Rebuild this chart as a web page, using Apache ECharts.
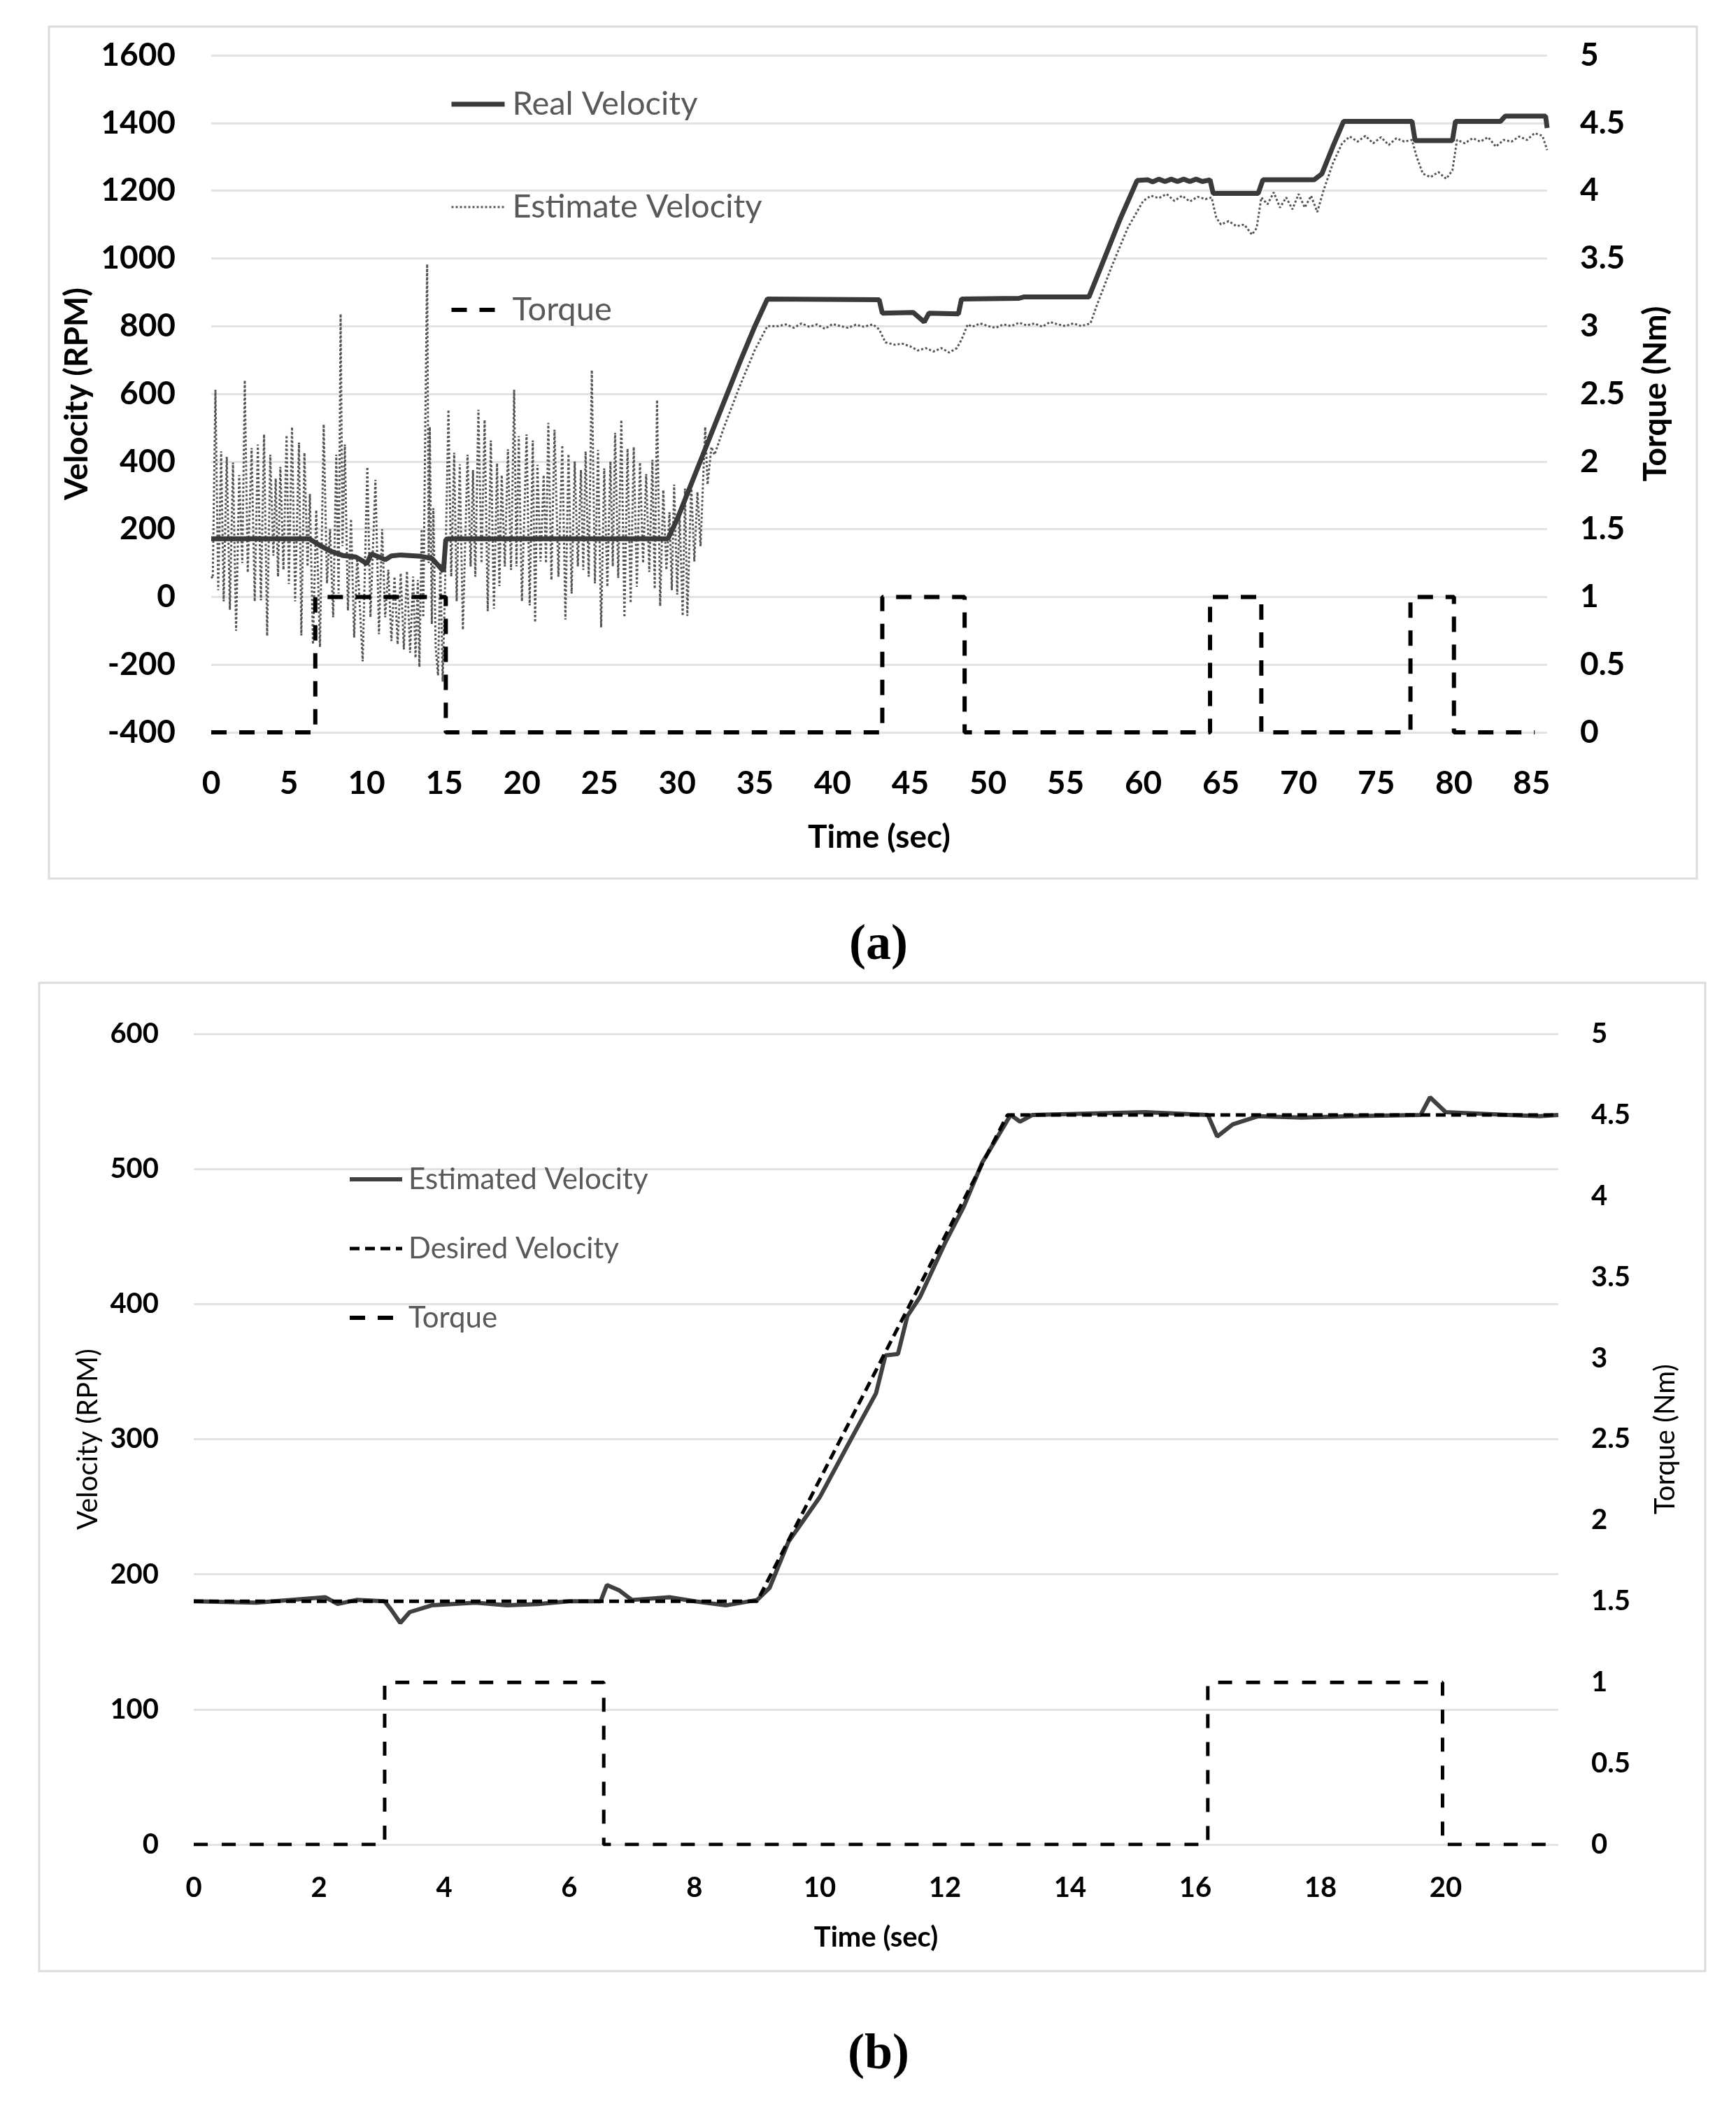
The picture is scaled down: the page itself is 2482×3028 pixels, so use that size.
<!DOCTYPE html>
<html>
<head>
<meta charset="utf-8">
<title>Velocity and torque</title>
<script src="https://cdn.jsdelivr.net/npm/echarts@6/dist/echarts.min.js"></script>
<style>
    html, body { margin: 0; padding: 0; background: #fff; }
    #chart { width: 2482px; height: 3028px; }
</style>
</head>
<body>
<div id="chart"></div>
<script>
// ---- panel (a) data: [time (sec), value] ----
const realVelA = [
    [0, 172], [6.3, 172], [7, 152], [7.7, 135], [8.5, 122], [9.3, 118], [9.8, 105], [10, 97],
    [10.3, 127], [10.8, 118], [11.2, 110], [11.6, 121], [12.2, 124], [13.5, 120], [14.2, 114],
    [14.7, 89], [14.95, 76], [15.1, 169], [15.3, 172], [29.4, 172], [30, 230], [31, 345],
    [32, 460], [33, 575], [34, 690], [35, 800], [35.8, 880], [43, 878], [43.2, 838],
    [45.2, 840], [45.9, 812], [46.2, 838], [48.1, 836], [48.3, 880], [52, 882], [52.3, 886],
    [56.5, 886], [57.5, 1000], [58.5, 1115], [59.6, 1230], [60.3, 1232], [60.6, 1226],
    [61, 1234], [61.4, 1227], [61.8, 1234], [62.2, 1227], [62.6, 1234], [63, 1227],
    [63.4, 1234], [63.8, 1227], [64.3, 1232], [64.5, 1192], [67.4, 1192], [67.7, 1232],
    [71, 1232], [71.5, 1250], [72.2, 1330], [72.9, 1405], [77.3, 1405], [77.5, 1348],
    [79.9, 1348], [80.1, 1405], [83, 1405], [83.3, 1420], [85.9, 1420], [86, 1385]
];

const estVelA = [
    [0, 60], [0.1, 55], [0.27, 612], [0.45, 20], [0.64, 430], [0.8, -13], [1.0, 414], [1.2, -38],
    [1.4, 397], [1.6, -100], [1.8, 360], [2.0, 100], [2.16, 640], [2.35, 72], [2.6, 440],
    [2.8, -13], [3.0, 450], [3.2, -10], [3.4, 480], [3.6, -115], [3.8, 420], [4.0, 122],
    [4.15, 350], [4.3, 60], [4.45, 384], [4.65, 80], [4.85, 478], [5.0, 38], [5.2, 502],
    [5.4, -13], [5.65, 456], [5.8, -114], [6.0, 426], [6.2, 90], [6.35, 304], [6.55, -140],
    [6.76, 257], [7.0, -148], [7.24, 510], [7.45, 40], [7.65, 200], [7.85, -60], [8.05, 420],
    [8.2, 10], [8.33, 836], [8.45, 150], [8.6, 450], [8.8, -40], [9.0, 230], [9.2, -120],
    [9.4, 120], [9.75, -190], [10.05, 384], [10.25, -60], [10.57, 346], [10.8, -110],
    [11.0, 200], [11.2, -60], [11.4, 80], [11.6, -130], [11.8, 60], [12.0, -140], [12.2, 70],
    [12.4, -155], [12.6, 76], [12.8, -165], [13.0, 60], [13.15, -180], [13.3, 50], [13.4, -207],
    [13.55, 200], [13.65, -60], [13.78, 500], [13.9, 983], [14.0, 100], [14.07, 502],
    [14.2, -80], [14.3, 262], [14.45, -150], [14.6, -232], [14.75, 100], [14.9, -250],
    [15.05, 30], [15.27, 553], [15.45, 60], [15.64, 426], [15.8, -13], [16.0, 392], [16.2, -97],
    [16.5, 420], [16.7, 90], [16.85, 375], [17.0, 60], [17.2, 553], [17.4, 100], [17.6, 523],
    [17.8, -42], [18.0, 462], [18.2, -35], [18.4, 395], [18.55, 32], [18.7, 360], [18.9, 90],
    [19.1, 436], [19.3, 80], [19.5, 612], [19.65, 90], [19.8, 475], [20.0, -13], [20.3, 480],
    [20.5, -25], [20.7, 462], [20.85, -75], [21.0, 390], [21.2, 105], [21.4, 360], [21.55, 100],
    [21.7, 514], [21.9, 50], [22.1, 494], [22.35, 60], [22.6, 448], [22.8, -67], [23.0, 422],
    [23.2, 10], [23.4, 400], [23.6, 90], [23.8, 375], [23.95, 80], [24.1, 430], [24.3, 60],
    [24.5, 670], [24.7, 40], [24.9, 434], [25.1, -90], [25.3, 380], [25.5, 30], [25.7, 400],
    [25.85, 90], [26.0, 485], [26.2, 56], [26.4, 523], [26.6, -60], [26.8, 438], [27.0, -18],
    [27.2, 443], [27.4, 30], [27.6, 397], [27.8, 100], [28.0, 363], [28.2, 74], [28.4, 405],
    [28.55, 24], [28.7, 582], [28.9, -27], [29.1, 316], [29.3, 80], [29.5, 250], [29.65, 20],
    [29.8, 332], [30.0, 7], [30.15, 250], [30.35, -56], [30.5, 320], [30.65, -56], [30.9, 332],
    [31.1, 105], [31.3, 310], [31.5, 150], [31.8, 502], [31.95, 332], [32.2, 443], [32.4, 420],
    [33, 500], [34, 620], [35, 730], [35.8, 800], [36.5, 800], [37, 805], [37.5, 795], [38, 808],
    [38.5, 798], [39, 805], [39.5, 792], [40, 806], [40.5, 800], [41, 795], [41.5, 804],
    [42, 798], [42.6, 805], [43.0, 790], [43.4, 752], [44, 745], [44.5, 748], [45, 740],
    [45.5, 728], [46, 735], [46.5, 725], [47, 735], [47.5, 722], [48, 735], [48.3, 760],
    [48.7, 805], [49, 798], [49.5, 808], [50, 800], [50.5, 795], [51, 805], [51.5, 800],
    [52, 810], [52.5, 802], [53, 808], [53.5, 798], [54, 812], [54.5, 805], [55, 800],
    [55.5, 808], [56, 800], [56.6, 808], [57, 860], [58, 980], [59, 1090], [60, 1170],
    [60.5, 1185], [61, 1178], [61.5, 1190], [62, 1170], [62.5, 1185], [63, 1168], [63.5, 1182],
    [64, 1175], [64.4, 1180], [64.7, 1120], [65, 1100], [65.5, 1110], [66, 1095], [66.5, 1100],
    [67, 1070], [67.3, 1090], [67.6, 1180], [68, 1160], [68.4, 1195], [68.8, 1150], [69.2, 1180],
    [69.6, 1145], [70, 1190], [70.4, 1150], [70.8, 1185], [71.2, 1137], [71.6, 1200],
    [72.2, 1280], [72.8, 1340], [73.3, 1360], [73.8, 1345], [74.3, 1362], [74.8, 1340],
    [75.3, 1358], [75.8, 1335], [76.3, 1355], [76.8, 1345], [77.3, 1350], [77.6, 1300],
    [78, 1250], [78.5, 1240], [79, 1255], [79.5, 1235], [79.9, 1260], [80.2, 1350], [80.7, 1340],
    [81.2, 1355], [81.7, 1345], [82.2, 1358], [82.7, 1330], [83.2, 1350], [83.7, 1345],
    [84.2, 1360], [84.7, 1350], [85.2, 1370], [85.7, 1362], [86, 1320]
];

const torqueA = [
    [0, 0], [6.7, 0], [6.7, 1], [15.1, 1], [15.1, 0], [43.2, 0], [43.2, 1], [48.5, 1],
    [48.5, 0], [64.3, 0], [64.3, 1], [67.6, 1], [67.6, 0], [77.2, 0], [77.2, 1], [80.0, 1],
    [80.0, 0], [85.2, 0]
];

// ---- panel (b) data ----
const estVelB = [
    [0, 180], [1, 179], [2.1, 183], [2.3, 178], [2.6, 181], [3.05, 180], [3.15, 174], [3.3, 164],
    [3.45, 172], [3.8, 177], [4.5, 179], [5, 177], [5.5, 178], [6, 180], [6.5, 180], [6.6, 192],
    [6.8, 188], [7, 181], [7.6, 183], [8, 180], [8.5, 177], [9, 181], [9.2, 190], [9.5, 224],
    [10, 257], [10.5, 300], [10.9, 334], [11.05, 362], [11.25, 363], [11.4, 391], [11.6, 405],
    [12, 445], [12.3, 472], [12.6, 505], [13.05, 540], [13.2, 535], [13.4, 540], [15.2, 542],
    [16.2, 540], [16.35, 524], [16.6, 533], [17, 539], [17.7, 538], [18.5, 539], [19.6, 540],
    [19.75, 553], [20, 542], [20.5, 541], [21, 540], [21.5, 539], [21.8, 540]
];

const desiredVelB = [[0, 180], [9, 180], [13, 540], [21.8, 540]];

const torqueB = [
    [0, 0], [3.05, 0], [3.05, 1], [6.55, 1], [6.55, 0], [16.2, 0], [16.2, 1], [19.95, 1],
    [19.95, 0], [21.8, 0]
];

const FONT = 'Lato';

let myChart = echarts.init(document.getElementById('chart'), null, { renderer: 'canvas' });

// plain numbers, no thousands separator
function plain(v) {
    return String(v);
}

function valueAxis(extra) {
    return Object.assign({
        type: 'value',
        axisLine: { show: false },
        axisTick: { show: false },
        splitLine: { show: false },
        nameLocation: 'middle',
        nameTextStyle: { fontFamily: FONT, color: '#000' },
        axisLabel: { fontFamily: FONT, color: '#000', fontWeight: 'bold', formatter: plain }
    }, extra);
}

let option = {
    animation: false,
    backgroundColor: '#fff',
    grid: [
        { left: 302, top: 79, width: 1910, height: 968 },
        { left: 277, top: 1478, width: 1951, height: 1159 }
    ],
    xAxis: [
        valueAxis({
            gridIndex: 0, min: 0, max: 86, interval: 5,
            name: 'Time (sec)', nameGap: 127,
            nameTextStyle: { fontFamily: FONT, color: '#000', fontSize: 46, fontWeight: 'bold' },
            axisLabel: { fontFamily: FONT, color: '#000', fontWeight: 'bold', fontSize: 46, margin: 50, showMaxLabel: false, formatter: plain }
        }),
        valueAxis({
            gridIndex: 1, min: 0, max: 21.8, interval: 2,
            name: 'Time (sec)', nameGap: 113,
            nameTextStyle: { fontFamily: FONT, color: '#000', fontSize: 40, fontWeight: 'bold' },
            axisLabel: { fontFamily: FONT, color: '#000', fontWeight: 'bold', fontSize: 40, margin: 42, showMaxLabel: false, formatter: plain }
        })
    ],
    yAxis: [
        valueAxis({
            gridIndex: 0, min: -400, max: 1600, interval: 200,
            name: 'Velocity (RPM)', nameGap: 166, nameRotate: 90,
            nameTextStyle: { fontFamily: FONT, color: '#000', fontSize: 46, fontWeight: 'bold' },
            axisLabel: { fontFamily: FONT, color: '#000', fontWeight: 'bold', fontSize: 46, margin: 51, formatter: plain },
            splitLine: { show: true, lineStyle: { color: '#e3e3e3', width: 3 } }
        }),
        valueAxis({
            gridIndex: 0, position: 'right', min: 0, max: 5, interval: 0.5,
            name: 'Torque (Nm)', nameGap: 132, nameRotate: 90,
            nameTextStyle: { fontFamily: FONT, color: '#000', fontSize: 46, fontWeight: 'bold' },
            axisLabel: { fontFamily: FONT, color: '#000', fontWeight: 'bold', fontSize: 46, margin: 47, formatter: plain }
        }),
        valueAxis({
            gridIndex: 1, min: 0, max: 600, interval: 100,
            name: 'Velocity (RPM)', nameGap: 129, nameRotate: 90,
            nameTextStyle: { fontFamily: FONT, color: '#000', fontSize: 40 },
            axisLabel: { fontFamily: FONT, color: '#000', fontWeight: 'bold', fontSize: 40, margin: 50, formatter: plain },
            splitLine: { show: true, lineStyle: { color: '#e3e3e3', width: 3 } }
        }),
        valueAxis({
            gridIndex: 1, position: 'right', min: 0, max: 5, interval: 0.5,
            name: 'Torque (Nm)', nameGap: 133, nameRotate: 90,
            nameTextStyle: { fontFamily: FONT, color: '#000', fontSize: 40 },
            axisLabel: { fontFamily: FONT, color: '#000', fontWeight: 'bold', fontSize: 40, margin: 47, formatter: plain }
        })
    ],
    legend: [
        {
            orient: 'vertical', left: 637, top: 119, itemGap: 97,
            itemWidth: 76, itemHeight: 20,
            data: ['Real Velocity', 'Estimate Velocity', 'Torque'],
            itemStyle: { opacity: 0 },
            lineStyle: { width: 'inherit' },
            textStyle: { fontFamily: FONT, fontSize: 47, color: '#595959', lineHeight: 50, padding: [0, 0, 0, 6] }
        },
        {
            orient: 'vertical', left: 492, top: 1656, itemGap: 49,
            itemWidth: 75, itemHeight: 20,
            data: ['Estimated Velocity', 'Desired Velocity', 'Torque'],
            itemStyle: { opacity: 0 },
            lineStyle: { width: 'inherit' },
            textStyle: { fontFamily: FONT, fontSize: 42, color: '#595959', lineHeight: 50, padding: [0, 0, 0, 4] }
        }
    ],
    series: [
        {
            name: 'Estimate Velocity', type: 'line', xAxisIndex: 0, yAxisIndex: 0,
            data: estVelA, showSymbol: false, symbol: 'none',
            itemStyle: { color: '#555' },
            lineStyle: { color: '#555', width: 3, type: [3, 3] }
        },
        {
            name: 'Real Velocity', type: 'line', xAxisIndex: 0, yAxisIndex: 0,
            data: realVelA, showSymbol: false, symbol: 'none',
            itemStyle: { color: '#3a3a3a' },
            lineStyle: { color: '#3a3a3a', width: 7 }
        },
        {
            name: 'Torque', type: 'line', xAxisIndex: 0, yAxisIndex: 1,
            data: torqueA, showSymbol: false, symbol: 'none',
            itemStyle: { color: '#000' },
            lineStyle: { color: '#000', width: 6, type: [22, 18] }
        },
        {
            name: 'Estimated Velocity', type: 'line', xAxisIndex: 1, yAxisIndex: 2,
            data: estVelB, showSymbol: false, symbol: 'none',
            itemStyle: { color: '#404040' },
            lineStyle: { color: '#404040', width: 6 }
        },
        {
            name: 'Desired Velocity', type: 'line', xAxisIndex: 1, yAxisIndex: 2,
            data: desiredVelB, showSymbol: false, symbol: 'none',
            itemStyle: { color: '#000' },
            lineStyle: { color: '#000', width: 5, type: [14, 8] }
        },
        {
            name: 'Torque', type: 'line', xAxisIndex: 1, yAxisIndex: 3,
            data: torqueB, showSymbol: false, symbol: 'none',
            itemStyle: { color: '#000' },
            lineStyle: { color: '#000', width: 5, type: [20, 20] }
        }
    ],
    graphic: [
        // chart frames
        { type: 'rect', z: -10, shape: { x: 70, y: 38, width: 2356, height: 1218 },
          style: { fill: null, stroke: '#dcdcdc', lineWidth: 3 } },
        { type: 'rect', z: -10, shape: { x: 56, y: 1405, width: 2382, height: 1413 },
          style: { fill: null, stroke: '#dcdcdc', lineWidth: 3 } },
        // panel captions
        { type: 'text', x: 1256, y: 1352,
          style: { text: '(a)', fontFamily: 'Liberation Serif', fontWeight: 'bold', fontSize: 72,
                   fill: '#000', align: 'center', verticalAlign: 'middle' } },
        { type: 'text', x: 1256, y: 2938,
          style: { text: '(b)', fontFamily: 'Liberation Serif', fontWeight: 'bold', fontSize: 72,
                   fill: '#000', align: 'center', verticalAlign: 'middle' } }
    ]
};

myChart.setOption(option);
</script>
</body>
</html>
